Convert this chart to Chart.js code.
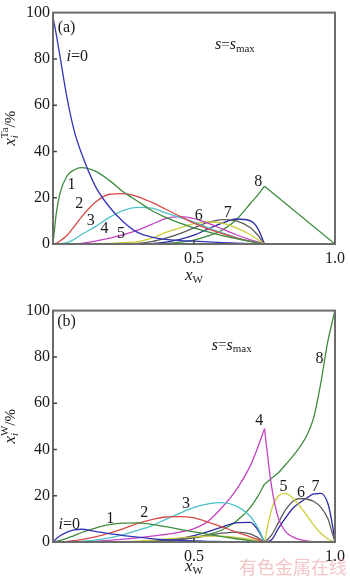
<!DOCTYPE html>
<html>
<head>
<meta charset="utf-8">
<script src="https://cdn.jsdelivr.net/npm/chart.js@4.4.1/dist/chart.umd.min.js"></script>
<style>
body { margin: 0; background: #fff; width: 350px; height: 580px; position: relative; overflow: hidden; }
.box { position: absolute; left: 0; width: 350px; }
#wm { position: absolute; left: 239px; top: 553px; font: 18px "Noto Sans CJK SC", sans-serif; color: rgba(232, 140, 140, 0.5); letter-spacing: 0px; }
</style>
</head>
<body>
<div class="box" style="top:0;height:290px"><canvas id="chartA" width="350" height="290"></canvas></div>
<div class="box" style="top:298px;height:282px"><canvas id="chartB" width="350" height="282"></canvas></div>
<div id="wm">有色金属在线</div>
<script>
// x_W grids (left part up to 0.75, right part 0.75..1.0)
const xLeft = [0, 0.0125, 0.025, 0.05, 0.075, 0.1, 0.15, 0.2, 0.25, 0.3, 0.35, 0.4, 0.45, 0.5, 0.55, 0.6, 0.65, 0.7, 0.725, 0.75];
const xRight = [0.75, 0.775, 0.8, 0.825, 0.85, 0.875, 0.9, 0.925, 0.95, 0.975, 0.99, 1.0];
const xEndA = [0.75, 1.0];

// panel (a): x_i^Ta, %
const a0 = [98, 90, 81, 63, 49, 39.5, 25, 16, 9.5, 5, 3, 2, 1.5, 1.2, 0.9, 0.6, 0.4, 0.2, 0.1, 0];
const a1 = [0, 14, 22, 29.5, 32, 33, 31.5, 27.5, 22.5, 18.5, 14.5, 11.5, 9, 7, 5.2, 3.6, 2.3, 1.1, 0.5, 0];
const a2 = [0, 0.4, 1.3, 3.8, 7.5, 11.5, 18, 21.5, 21.8, 20.5, 18, 15, 12, 9, 6.5, 4.5, 2.6, 1.1, 0.5, 0];
const a3 = [0, 0, 0.1, 0.6, 2, 4, 7.5, 11.5, 14.5, 15.8, 15.5, 13.5, 11.5, 9.5, 7, 4.8, 2.8, 1.2, 0.6, 0];
const a4 = [0, 0, 0, 0, 0.1, 0.3, 1.2, 2.5, 4, 6, 8.5, 11, 11.8, 11, 9, 6.5, 4, 1.8, 0.9, 0];
const a5 = [0, 0, 0, 0, 0, 0, 0.1, 0.3, 0.6, 1, 2.5, 5, 7, 8.8, 9.5, 9, 7, 4, 2, 0];
const a6 = [0, 0, 0, 0, 0, 0, 0, 0, 0.1, 0.3, 1, 2.5, 4.5, 7, 9.3, 10.5, 10, 7, 4, 0];
const a7 = [0, 0, 0, 0, 0, 0, 0, 0, 0, 0, 0.2, 0.8, 2, 3.8, 6.5, 9, 10.8, 10, 7, 0];
const a8 = [0, 0, 0, 0, 0, 0, 0, 0, 0, 0, 0.1, 0.3, 0.8, 1.7, 3.5, 6, 10.5, 17.5, 21, 25];
const a8End = [25, 0];

// panel (b): x_i^W, %
const b0 = [0, 1.5, 2.7, 4.3, 5.2, 5.5, 4.6, 3.6, 2.8, 2.1, 1.5, 1, 0.7, 0.5, 0.3, 0.2, 0.1, 0.05, 0, 0];
const b1 = [0, 0.3, 0.7, 1.6, 2.8, 4, 6, 7.5, 8.2, 8.3, 7.6, 6.6, 5.5, 4.4, 3.3, 2.3, 1.4, 0.6, 0.3, 0];
const b2 = [0, 0, 0.1, 0.3, 0.6, 1, 2.2, 3.8, 5.8, 8, 9.7, 10.8, 11, 10.4, 8.6, 6.5, 4.3, 2.2, 1.1, 0];
const b3 = [0, 0, 0, 0.05, 0.15, 0.3, 0.8, 1.8, 3.2, 5, 7, 9.8, 12.5, 15, 16.5, 17, 15.5, 11, 6.5, 0];
const b4 = [0, 0, 0, 0, 0, 0.1, 0.3, 0.7, 1.2, 1.8, 2.5, 3.3, 4.3, 5.8, 9, 15, 22.5, 33, 40.5, 49];
const b5 = [0, 0, 0, 0, 0, 0, 0, 0.1, 0.2, 0.4, 0.8, 1.3, 1.8, 2.2, 2.5, 2.5, 2, 1.2, 0.6, 0];
const b6 = [0, 0, 0, 0, 0, 0, 0, 0, 0, 0.1, 0.3, 0.5, 1, 1.8, 2.8, 3.8, 4.3, 3.5, 2, 0];
const b7 = [0, 0, 0, 0, 0, 0, 0, 0, 0, 0, 0.1, 0.6, 1.5, 2.8, 4.5, 6.5, 8.3, 8.5, 5.5, 0];
const b8 = [0, 0, 0, 0, 0, 0, 0, 0, 0.1, 0.2, 0.4, 0.8, 1.3, 2, 3.2, 5.3, 9, 15, 19.5, 25];
const b4R = [49, 24, 10, 4.5, 2.2, 1, 0.5, 0.2, 0.1, 0, 0, 0];
const b5R = [0, 14, 20, 21, 19, 15.5, 11.5, 7.2, 3.8, 1.3, 0.4, 0];
const b6R = [0, 3, 8.5, 14, 17.5, 18.8, 18.5, 17.5, 15, 10, 4, 0];
const b7R = [0, 1, 6, 10.5, 14.5, 17, 19, 20.8, 21, 16.5, 8, 0];
const b8R = [25, 27.5, 30, 33.5, 37, 41, 46, 54, 69, 87, 95, 100];

const colors = ['#3434b8', '#3d8c3d', '#d84a4a', '#4cc2c8', '#c444c4', '#cccc3a', '#5c5c5c', '#2a2aa4', '#3d8c3d'];

const SERIF = '"Liberation Serif", "Times New Roman", serif';
Chart.defaults.font.family = SERIF;
Chart.defaults.font.size = 16;
Chart.defaults.color = '#1a1a1a';

function fnt(size, italic) {
    return (italic ? 'italic ' : '') + size + 'px ' + SERIF;
}

// draws a run of text pieces (sub/superscripts) centered on x
function rich(ctx, x, y, parts) {
    let w = 0;
    for (const p of parts) {
        ctx.font = fnt(p.s, p.i);
        if (p.adv !== false) w += ctx.measureText(p.t).width;
    }
    let cx = x - w / 2;
    for (const p of parts) {
        ctx.font = fnt(p.s, p.i);
        ctx.fillText(p.t, cx, y + (p.dy || 0));
        if (p.adv !== false) cx += ctx.measureText(p.t).width;
    }
}

const X_TITLE = [{ t: 'x', s: 17, i: true }, { t: 'W', s: 11, dy: 4 }];
const S_MAX = [{ t: 's', s: 16, i: true }, { t: '=', s: 15 }, { t: 's', s: 16, i: true }, { t: 'max', s: 11, dy: 4 }];
const I_ZERO = [{ t: 'i', s: 16, i: true }, { t: '=0', s: 16 }];
function yTitle(sup) {
    return [{ t: 'x', s: 17, i: true }, { t: 'i', s: 11, i: true, dy: 4, adv: false }, { t: sup, s: 11, dy: -6 }, { t: '/%', s: 15 }];
}
function num(n) { return [{ t: n, s: 16 }]; }

const labelsA = [
    { p: [{ t: '(a)', s: 16 }], x: 0.048, y: 93.3 },
    { p: I_ZERO, x: 0.086, y: 81 },
    { p: S_MAX, x: 0.645, y: 86 },
    { p: num('1'), x: 0.066, y: 25.4 },
    { p: num('2'), x: 0.093, y: 17.5 },
    { p: num('3'), x: 0.134, y: 10 },
    { p: num('4'), x: 0.183, y: 6.7 },
    { p: num('5'), x: 0.241, y: 4.2 },
    { p: num('6'), x: 0.517, y: 12 },
    { p: num('7'), x: 0.62, y: 13.3 },
    { p: num('8'), x: 0.728, y: 27 }
];
const labelsB = [
    { p: [{ t: '(b)', s: 16 }], x: 0.048, y: 95 },
    { p: S_MAX, x: 0.634, y: 85 },
    { p: I_ZERO, x: 0.058, y: 7.5 },
    { p: num('1'), x: 0.203, y: 10 },
    { p: num('2'), x: 0.324, y: 12.5 },
    { p: num('3'), x: 0.472, y: 16.7 },
    { p: num('4'), x: 0.731, y: 52.5 },
    { p: num('5'), x: 0.817, y: 23.75 },
    { p: num('6'), x: 0.879, y: 21.25 },
    { p: num('7'), x: 0.931, y: 23.75 },
    { p: num('8'), x: 0.945, y: 79 }
];

const decor = {
    id: 'decor',
    afterDraw(chart, args, opts) {
        const ctx = chart.ctx, a = chart.chartArea;
        const xs = chart.scales.x, ys = chart.scales.y;
        ctx.save();
        ctx.strokeStyle = '#6c6c6c';
        ctx.lineWidth = 2;
        ctx.strokeRect(a.left, a.top, a.right - a.left, a.bottom - a.top);
        ctx.lineWidth = 1.5;
        ctx.strokeStyle = '#444';
        ctx.beginPath();
        [20, 40, 60, 80].forEach(v => {
            const py = ys.getPixelForValue(v);
            ctx.moveTo(a.left, py);
            ctx.lineTo(a.left + 4, py);
        });
        const px = xs.getPixelForValue(0.5);
        ctx.moveTo(px, a.bottom);
        ctx.lineTo(px, a.bottom - 4);
        ctx.stroke();

        ctx.fillStyle = '#1a1a1a';
        ctx.textBaseline = 'middle';
        ctx.textAlign = 'left';
        for (const l of opts.labels) {
            rich(ctx, xs.getPixelForValue(l.x), ys.getPixelForValue(l.y), l.p);
        }
        rich(ctx, px, opts.xTitleY, X_TITLE);
        ctx.translate(11, (a.top + a.bottom) / 2);
        ctx.rotate(-Math.PI / 2);
        rich(ctx, 0, 0, opts.yTitle);
        ctx.restore();
    }
};

function line(xs, ys, color, tension) {
    return {
        data: xs.map((x, k) => ({ x: x, y: ys[k] })),
        borderColor: color,
        borderWidth: 1.3,
        pointRadius: 0,
        showLine: true,
        fill: false,
        cubicInterpolationMode: tension === 0 ? 'default' : 'monotone',
        tension: tension === 0 ? 0 : 0.4
    };
}

function makeChart(id, datasets, bottomH, labels, sup, xTitleY) {
    return new Chart(document.getElementById(id), {
        type: 'scatter',
        data: { datasets: datasets },
        plugins: [decor],
        options: {
            responsive: false,
            animation: false,
            events: [],
            layout: { autoPadding: false, padding: { top: 4, right: 7, left: 0, bottom: 0 } },
            plugins: {
                legend: { display: false },
                tooltip: { enabled: false },
                decor: { labels: labels, yTitle: yTitle(sup), xTitleY: xTitleY }
            },
            scales: {
                x: {
                    type: 'linear', min: 0, max: 1,
                    grid: { display: false, drawTicks: false },
                    border: { display: false },
                    afterFit(s) { s.height = bottomH; },
                    ticks: {
                        stepSize: 0.5, padding: 5, maxRotation: 0,
                        callback: v => (v === 0 ? '' : v.toFixed(1))
                    }
                },
                y: {
                    min: 0, max: 100,
                    grid: { display: false, drawTicks: false },
                    border: { display: false },
                    afterFit(s) { s.width = 53; },
                    ticks: { stepSize: 20, padding: 3 }
                }
            }
        }
    });
}

const seriesA = [a0, a1, a2, a3, a4, a5, a6, a7, a8];
const dsA = seriesA.map((ys, i) => line(xLeft, ys, colors[i]));
dsA.push(line(xEndA, a8End, colors[8], 0));
makeChart('chartA', dsA, 46, labelsA, 'Ta', 276);

const seriesB = [b0, b1, b2, b3, b4, b5, b6, b7, b8];
const dsB = seriesB.map((ys, i) => line(xLeft, ys, colors[i]));
[[b4R, 4], [b5R, 5], [b6R, 6], [b7R, 7], [b8R, 8]].forEach(r => dsB.push(line(xRight, r[0], colors[r[1]])));
makeChart('chartB', dsB, 38, labelsB, 'W', 269);
</script>
</body>
</html>
